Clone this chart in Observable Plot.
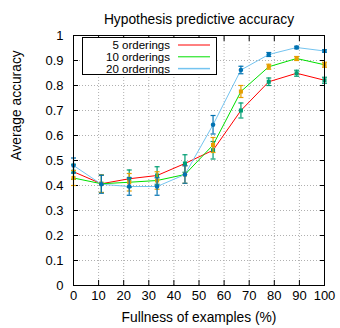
<!DOCTYPE html>
<html>
<head>
<meta charset="utf-8">
<script src="https://cdn.jsdelivr.net/npm/d3@7"></script>
<script src="https://cdn.jsdelivr.net/npm/@observablehq/plot@0.6"></script>
<style>
  html, body { margin: 0; padding: 0; background: #fff; }
  #chart svg { display: block; }
</style>
</head>
<body>
<div id="chart"></div>
<script>
// ---- data ----
const fullness = [0, 11.1, 22.2, 33.3, 44.4, 55.6, 66.7, 77.8, 88.9, 100];
const seriesNames = ["5 orderings", "10 orderings", "20 orderings"];
const acc5  = [0.455, 0.407, 0.427, 0.440, 0.488, 0.541, 0.700, 0.815, 0.849, 0.821];
const err5  = [0.030, 0.035, 0.035, 0.035, 0.035, 0.035, 0.030, 0.015, 0.012, 0.012];
const acc10 = [0.430, 0.407, 0.413, 0.420, 0.444, 0.562, 0.776, 0.875, 0.908, 0.883];
const err10 = [0.030, 0.035, 0.035, 0.035, 0.035, 0.030, 0.024, 0.010, 0.008, 0.010];
const acc20 = [0.480, 0.405, 0.396, 0.396, 0.444, 0.643, 0.862, 0.924, 0.952, 0.938];
const err20 = [0.030, 0.036, 0.035, 0.035, 0.035, 0.037, 0.015, 0.008, 0.005, 0.005];
const xTicks = [0, 10, 20, 30, 40, 50, 60, 70, 80, 90, 100];
const yTicks = [0, 0.1, 0.2, 0.3, 0.4, 0.5, 0.6, 0.7, 0.8, 0.9, 1];
const yTickLabels = ["0", "0.1", "0.2", "0.3", "0.4", "0.5", "0.6", "0.7", "0.8", "0.9", "1"];
const lineColors = ["#ff0000", "#00e000", "#74c4f0"];
const errColors = ["#009e73", "#e69f00", "#0072b2"];
const title = "Hypothesis predictive accuracy";
const xLabel = "Fullness of examples (%)";
const yLabel = "Average accuracy";

const accs = [acc5, acc10, acc20];
const errs = [err5, err10, err20];
const rows = [];
accs.forEach((a, s) => a.forEach((v, i) => rows.push({
  series: seriesNames[s], si: s, x: fullness[i], y: v, lo: v - errs[s][i], hi: v + errs[s][i]
})));

const capSymbol = { draw(ctx, size) { const w = 2.5; ctx.moveTo(-w, 0); ctx.lineTo(w, 0); } };
const font = "'Liberation Sans', Arial, Helvetica, sans-serif";

const marks = [
  Plot.gridX(xTicks, { stroke: "#b0b0b0", strokeOpacity: 1, strokeDasharray: "1,2" }),
  Plot.gridY(yTicks, { stroke: "#b0b0b0", strokeOpacity: 1, strokeDasharray: "1,2" }),
  Plot.axisX(xTicks, { anchor: "bottom", tickSize: -5, tickFormat: () => "", stroke: "black", label: null }),
  Plot.axisX(xTicks, { anchor: "top", tickSize: -5, tickFormat: () => "", stroke: "black", label: null }),
  Plot.axisY(yTicks, { anchor: "left", tickSize: -5, tickFormat: () => "", stroke: "black", label: null }),
  Plot.axisY(yTicks, { anchor: "right", tickSize: -5, tickFormat: () => "", stroke: "black", label: null }),
  Plot.axisX(xTicks, { anchor: "bottom", tickSize: 0, tickPadding: 5, fill: "black", label: null, fontSize: 13 }),
  Plot.axisY(yTicks, { anchor: "left", tickSize: 0, tickPadding: 10, fill: "black", label: null, fontSize: 13,
    tickFormat: (d) => yTickLabels[yTicks.indexOf(d)] }),
];
for (let s = 0; s < 3; s++) {
  const d = rows.filter(r => r.si === s);
  marks.push(Plot.line(d, { x: "x", y: "y", stroke: lineColors[s], strokeWidth: 1 }));
}
for (let s = 0; s < 3; s++) {
  const d = rows.filter(r => r.si === s);
  marks.push(Plot.ruleX(d, { x: "x", y1: "lo", y2: "hi", stroke: errColors[s], strokeWidth: 1.2 }));
  marks.push(Plot.dot(d, { x: "x", y: "lo", symbol: capSymbol, stroke: errColors[s], strokeWidth: 1.2, r: 3 }));
  marks.push(Plot.dot(d, { x: "x", y: "hi", symbol: capSymbol, stroke: errColors[s], strokeWidth: 1.2, r: 3 }));
  marks.push(Plot.dot(d, { x: "x", y: "y", symbol: s === 2 ? "circle" : "square", fill: errColors[s], r: 2.3 }));
}
marks.push(Plot.frame({ stroke: "black", strokeWidth: 1 }));
marks.push(Plot.text([title], { frameAnchor: "top", dy: -21.5, text: d => d, fontSize: 13.8, fill: "black" }));
marks.push(Plot.text([xLabel], { frameAnchor: "bottom", dy: 36.5, text: d => d, fontSize: 13.8, fill: "black" }));
marks.push(Plot.text([yLabel], { frameAnchor: "left", dx: -57, rotate: -90, text: d => d, fontSize: 13.8, fill: "black" }));

const chart = Plot.plot({
  width: 340, height: 328,
  marginLeft: 73, marginRight: 16, marginTop: 35, marginBottom: 43,
  style: { fontFamily: font, fontSize: "12px", color: "black", background: "white" },
  x: { domain: [0, 100] },
  y: { domain: [0, 1] },
  marks
});
document.getElementById("chart").appendChild(chart);

// legend (opaque box inside the plot area, top-left)
const svg = d3.select(chart);
const lg = svg.append("g").attr("font-family", font).attr("font-size", 11.5);
lg.append("rect").attr("x", 82.5).attr("y", 37.5).attr("width", 134).attr("height", 37)
  .attr("fill", "white").attr("stroke", "black");
seriesNames.forEach((name, i) => {
  const cy = 45 + i * 11.8;
  lg.append("text").attr("x", 170).attr("y", cy).attr("dy", "0.35em")
    .attr("text-anchor", "end").attr("fill", "black").text(name);
  lg.append("line").attr("x1", 178).attr("x2", 210).attr("y1", cy).attr("y2", cy)
    .attr("stroke", lineColors[i]).attr("stroke-width", i === 2 ? 1.5 : 1);
});
</script>
</body>
</html>
